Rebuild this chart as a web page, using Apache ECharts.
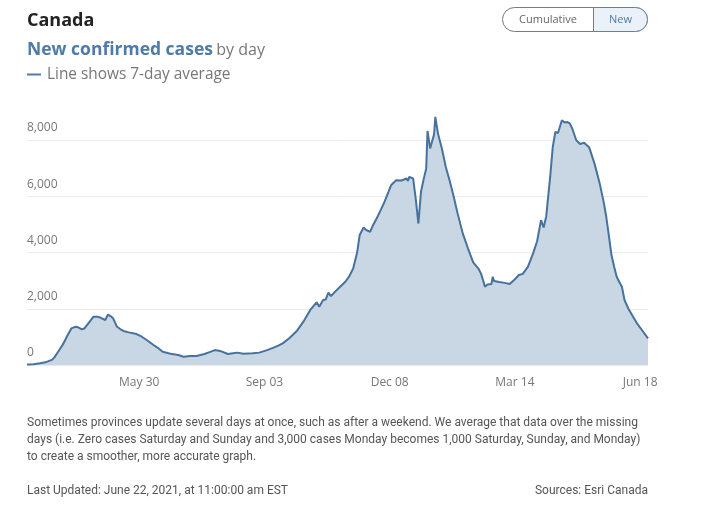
<!DOCTYPE html>
<html>
<head>
<meta charset="utf-8">
<script src="https://cdn.jsdelivr.net/npm/echarts@6/dist/echarts.min.js"></script>
<style>
html,body{margin:0;padding:0;background:#fff;}
#chart{width:726px;height:506px;}
</style>
</head>
<body>
<div id="chart"></div>
<script>
// Dates of sampled points (7-day average of new confirmed cases, Canada)
var dates = [
'2020-03-05','2020-03-10','2020-03-15','2020-03-20','2020-03-24','2020-03-26','2020-03-30','2020-04-02','2020-04-05','2020-04-08',
'2020-04-10','2020-04-12','2020-04-14','2020-04-16','2020-04-18','2020-04-21','2020-04-25','2020-04-28','2020-05-01','2020-05-04',
'2020-05-06','2020-05-08','2020-05-10','2020-05-13','2020-05-16','2020-05-18','2020-05-22','2020-05-28','2020-06-01','2020-06-05',
'2020-06-10','2020-06-13','2020-06-17','2020-06-23','2020-06-29','2020-07-03','2020-07-08','2020-07-13','2020-07-19','2020-07-23',
'2020-07-27','2020-07-31','2020-08-06','2020-08-10','2020-08-13','2020-08-18','2020-08-25','2020-08-30','2020-09-05','2020-09-10',
'2020-09-14','2020-09-17','2020-09-22','2020-09-28','2020-10-03','2020-10-08','2020-10-13','2020-10-15','2020-10-18','2020-10-20',
'2020-10-22','2020-10-24','2020-10-27','2020-10-31','2020-11-04','2020-11-07','2020-11-10','2020-11-13','2020-11-15','2020-11-18',
'2020-11-20','2020-11-21','2020-11-23','2020-11-25','2020-11-28','2020-12-01','2020-12-04','2020-12-07','2020-12-09','2020-12-13',
'2020-12-17','2020-12-21','2020-12-22','2020-12-23','2020-12-26','2020-12-28','2020-12-30','2021-01-01','2021-01-03','2021-01-05',
'2021-01-06','2021-01-08','2021-01-09','2021-01-11','2021-01-12','2021-01-14','2021-01-17','2021-01-20','2021-01-23','2021-01-26',
'2021-01-29','2021-02-02','2021-02-06','2021-02-10','2021-02-14','2021-02-16','2021-02-18','2021-02-19','2021-02-21','2021-02-24',
'2021-02-25','2021-02-26','2021-03-02','2021-03-06','2021-03-10','2021-03-14','2021-03-17','2021-03-20','2021-03-24','2021-03-28',
'2021-03-31','2021-04-03','2021-04-05','2021-04-07','2021-04-10','2021-04-12','2021-04-14','2021-04-16','2021-04-19','2021-04-21',
'2021-04-23','2021-04-25','2021-04-27','2021-04-30','2021-05-03','2021-05-06','2021-05-10','2021-05-14','2021-05-18','2021-05-21',
'2021-05-23','2021-05-25','2021-05-27','2021-05-29','2021-05-31','2021-06-02','2021-06-04','2021-06-06','2021-06-09','2021-06-12',
'2021-06-16','2021-06-20','2021-06-24'
];
var avgCases = [
20,30,60,110,180,270,550,770,1050,1300,
1340,1360,1320,1270,1300,1480,1720,1720,1670,1600,
1790,1740,1660,1360,1260,1210,1160,1100,1005,880,
710,620,470,400,355,295,320,320,390,460,
530,500,390,420,440,400,415,440,530,620,
700,770,950,1220,1550,1950,2230,2070,2310,2330,
2570,2450,2600,2780,2960,3150,3430,3990,4620,4890,
4800,4850,4735,4950,5210,5500,5800,6150,6390,6570,
6560,6630,6540,6690,6630,5900,5030,6160,6600,6990,
8320,7700,7660,8200,8820,8230,7700,7040,6550,6000,
5400,4680,4150,3650,3430,3250,2950,2780,2860,2880,
3140,2990,2950,2920,2880,3050,3200,3240,3500,3980,
4400,5150,4890,5290,6690,7750,8290,8250,8700,8620,
8640,8590,8400,7990,7860,7900,7730,7160,6450,5800,
5270,4600,3910,3500,3140,2950,2780,2310,2000,1760,
1450,1200,950
];
var xRange = ['2020-03-05', '2021-06-24'];
var xTickDates = ['2020-05-30','2020-09-03','2020-12-08','2021-03-14','2021-06-18'];
var xTickLabels = ['May 30','Sep 03','Dec 08','Mar 14','Jun 18'];
var yTicks = [0, 2000, 4000, 6000, 8000];

function ts(d) { return Date.parse(d + 'T00:00:00Z'); }
var seriesData = dates.map(function (d, i) { return [ts(d), avgCases[i]]; });
var tickTimes = xTickDates.map(ts);

function fmtNum(v) { return String(v).replace(/\B(?=(\d{3})+(?!\d))/g, ','); }

var chart = echarts.init(document.getElementById('chart'), null, {renderer: 'canvas'});
var TF = '"Open Sans", sans-serif';
var FOOT = '12px Roboto, sans-serif';

chart.setOption({
  animation: false,
  backgroundColor: '#ffffff',
  grid: {left: 27, right: 78, top: 140, bottom: 141, containLabel: false},
  xAxis: {
    type: 'value',
    min: ts(xRange[0]),
    max: ts(xRange[1]),
    axisLine: {show: false},
    axisTick: {show: false},
    splitLine: {show: false},
    axisLabel: {
      customValues: tickTimes,
      showMinLabel: true,
      showMaxLabel: true,
      margin: 12,
      color: '#777',
      fontSize: 12,
      fontFamily: TF,
      formatter: function (v) {
        var i = tickTimes.indexOf(+v);
        return i >= 0 ? xTickLabels[i] : '';
      }
    }
  },
  yAxis: {
    type: 'value',
    min: yTicks[0],
    max: yTicks[yTicks.length - 1],
    interval: 2000,
    axisLine: {show: false},
    axisTick: {show: false},
    splitLine: {show: true, lineStyle: {color: '#ebebeb', width: 1}},
    axisLabel: {
      inside: true,
      margin: 0,
      color: '#777',
      fontSize: 12,
      fontFamily: TF,
      verticalAlign: 'bottom',
      padding: [0, 0, 6, 0],
      formatter: function (v) { return fmtNum(v); }
    }
  },
  series: [{
    type: 'line',
    data: seriesData,
    clip: false,
    showSymbol: false,
    symbol: 'none',
    lineStyle: {color: '#46729c', width: 2},
    areaStyle: {color: '#c9d7e4', opacity: 1},
    z: 1
  }],
  graphic: [
    {type: 'text', left: 27, top: 12, style: {text: 'Canada', fill: '#222', font: 'bold 18px "Open Sans", sans-serif'}},
    {type: 'text', left: 27, top: 41, style: {
      text: '{a|New confirmed cases} {b|by day}',
      rich: {
        a: {fill: '#4e7ba7', fontWeight: 'bold', fontSize: 17.5, fontFamily: TF},
        b: {fill: '#777', fontSize: 16, fontFamily: TF}
      }
    }},
    {type: 'rect', shape: {x: 27, y: 73.5, width: 14, height: 2}, style: {fill: '#4e7ba7'}},
    {type: 'text', left: 47, top: 67, style: {text: 'Line shows 7-day average', fill: '#777', font: '15.4px "Open Sans", sans-serif'}},
    // toggle buttons
    {type: 'rect', shape: {x: 502.5, y: 7.5, width: 145, height: 24, r: 12}, style: {fill: '#fff', stroke: '#7a7a7a', lineWidth: 1}},
    {type: 'rect', shape: {x: 593.5, y: 7.5, width: 54, height: 24, r: [0, 12, 12, 0]}, style: {fill: '#eaf1f8', stroke: '#5a83ab', lineWidth: 1}},
    {type: 'text', x: 548, y: 20, style: {text: 'Cumulative', fill: '#666', font: '11px "Open Sans", sans-serif', align: 'center', verticalAlign: 'middle'}},
    {type: 'text', x: 620.5, y: 20, style: {text: 'New', fill: '#4e7ba7', font: '11px "Open Sans", sans-serif', align: 'center', verticalAlign: 'middle'}},
    // footer
    {type: 'text', x: 27, y: 423, style: {text: 'Sometimes provinces update several days at once, such as after a weekend. We average that data over the missing', fill: '#555', font: FOOT, verticalAlign: 'middle'}},
    {type: 'text', x: 27, y: 440, style: {text: 'days (i.e. Zero cases Saturday and Sunday and 3,000 cases Monday becomes 1,000 Saturday, Sunday, and Monday)', fill: '#555', font: FOOT, verticalAlign: 'middle'}},
    {type: 'text', x: 27, y: 457, style: {text: 'to create a smoother, more accurate graph.', fill: '#555', font: FOOT, verticalAlign: 'middle'}},
    {type: 'text', x: 27, y: 491, style: {text: 'Last Updated: June 22, 2021, at 11:00:00 am EST', fill: '#555', font: FOOT, verticalAlign: 'middle'}},
    {type: 'text', x: 648, y: 491, style: {text: 'Sources: Esri Canada', fill: '#555', font: FOOT, align: 'right', verticalAlign: 'middle'}}
  ]
});
</script>
</body>
</html>
